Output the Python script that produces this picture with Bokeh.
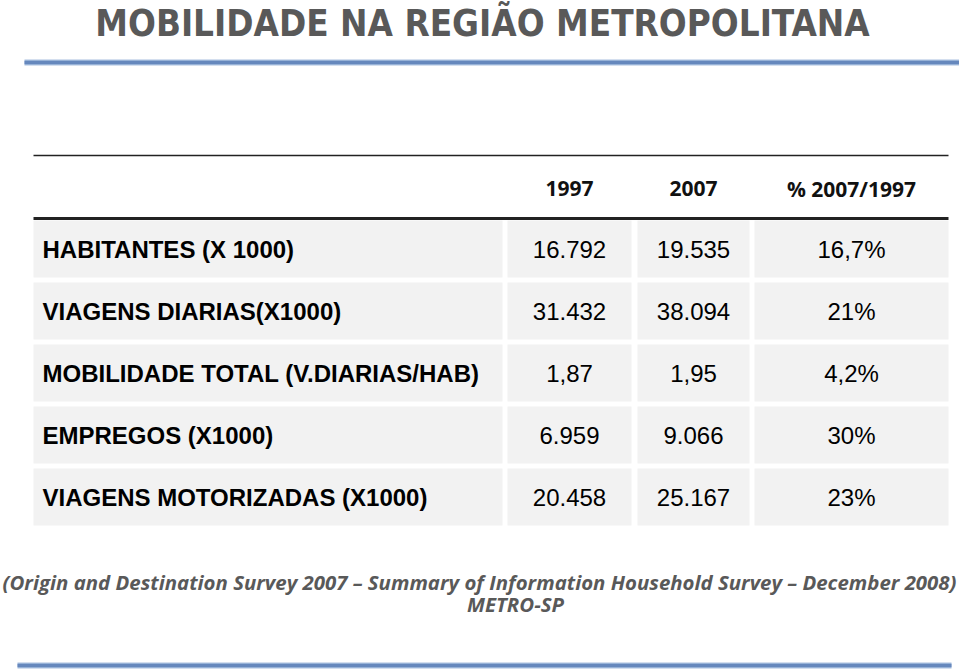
from bokeh.plotting import figure
from bokeh.models import Range1d, ColumnDataSource
from bokeh.embed import file_html
from bokeh.resources import INLINE
from bokeh.core.properties import value

title = "MOBILIDADE NA REGIÃO METROPOLITANA"
headers = ["1997", "2007", "% 2007/1997"]
row_labels = ["HABITANTES (X 1000)", "VIAGENS DIARIAS(X1000)", "MOBILIDADE TOTAL (V.DIARIAS/HAB)",
              "EMPREGOS (X1000)", "VIAGENS MOTORIZADAS (X1000)"]
v1997 = ["16.792", "31.432", "1,87", "6.959", "20.458"]
v2007 = ["19.535", "38.094", "1,95", "9.066", "25.167"]
pct = ["16,7%", "21%", "4,2%", "30%", "23%"]
footer1 = "(Origin and Destination Survey 2007 \u2013 Summary of Information Household Survey \u2013 December 2008)"
footer2 = "METRO-SP"

W, H = 959, 670
p = figure(width=W, height=H, output_backend="svg", toolbar_location=None,
           x_range=Range1d(0, W), y_range=Range1d(H, 0), min_border=0)
p.axis.visible = False
p.grid.visible = False
p.outline_line_color = None
p.background_fill_color = "white"

# layout
col_left = [33, 507, 637, 754]
col_right = [502, 631, 749, 948]
row_top0, row_step, row_h = 220, 62, 57

# title
p.text(x=[482], y=[23], text=[title], text_font=value("DejaVu Sans Condensed"), text_font_style="bold",
       text_font_size="36.5px", text_color="#595959", text_align="center", text_baseline="middle")
# blue rules
p.segment(x0=[24], y0=[62], x1=[959], y1=[62], line_color="#a9c0e0", line_width=6)
p.segment(x0=[24], y0=[62], x1=[959], y1=[62], line_color="#6688bd", line_width=3.5)
p.segment(x0=[17], y0=[665], x1=[951], y1=[665], line_color="#a9c0e0", line_width=6)
p.segment(x0=[17], y0=[665], x1=[951], y1=[665], line_color="#6688bd", line_width=3.5)

# table rules
p.segment(x0=[33], y0=[155], x1=[948], y1=[155], line_color="#222222", line_width=1.5)
p.segment(x0=[33], y0=[218], x1=[948], y1=[218], line_color="#222222", line_width=3)

# header
hx = [(col_left[i + 1] + col_right[i + 1]) / 2 for i in range(3)]
p.text(x=hx, y=[188] * 3, text=headers, text_font=value("Open Sans"), text_font_style="bold",
       text_font_size="21px", text_color="#111111", text_align="center", text_baseline="middle")

# cells
n = len(row_labels)
qs = {"l": [], "r": [], "t": [], "b": []}
for i in range(n):
    for c in range(4):
        qs["l"].append(col_left[c]); qs["r"].append(col_right[c])
        qs["t"].append(row_top0 + i * row_step); qs["b"].append(row_top0 + i * row_step + row_h)
p.quad(left="l", right="r", top="t", bottom="b", source=ColumnDataSource(qs),
       fill_color="#f2f2f2", line_color=None)

ys = [row_top0 + i * row_step + row_h / 2 for i in range(n)]
p.text(x=[42] * n, y=ys, text=row_labels, text_font=value("Liberation Sans"), text_font_style="bold",
       text_font_size="24px", text_color="#000000", text_align="left", text_baseline="middle")
for c, vals in enumerate([v1997, v2007, pct]):
    p.text(x=[hx[c]] * n, y=ys, text=vals, text_font=value("Liberation Sans"),
           text_font_size="24px", text_color="#000000", text_align="center", text_baseline="middle")

# footer
p.text(x=[479], y=[581], text=[footer1], text_font=value("Open Sans"), text_font_style="bold italic",
       text_font_size="20.4px", text_color="#595959", text_align="center", text_baseline="middle")
p.text(x=[515], y=[603], text=[footer2], text_font=value("Open Sans"), text_font_style="bold italic",
       text_font_size="20.4px", text_color="#595959", text_align="center", text_baseline="middle")

open("out.html", "w").write(file_html(p, INLINE))
